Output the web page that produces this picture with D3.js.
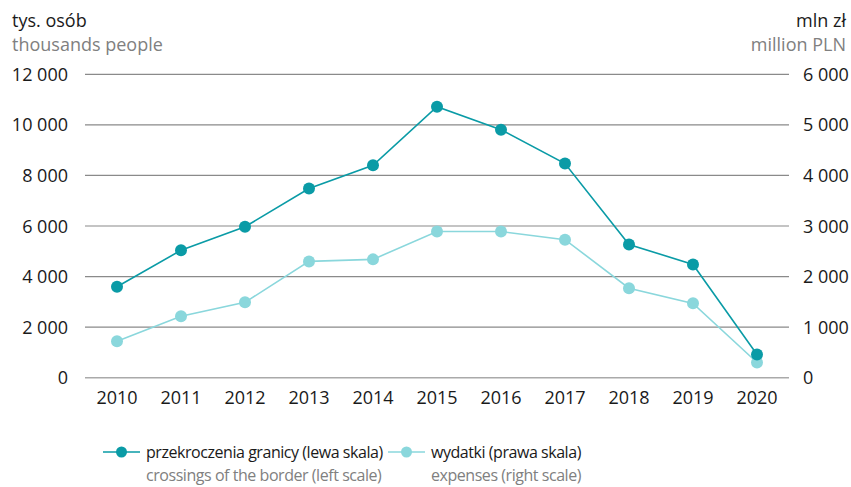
<!DOCTYPE html>
<html lang="pl">
<head>
  <meta charset="UTF-8">
  <title>przekroczenia granicy</title>
  <script src="https://d3js.org/d3.v7.min.js"></script>
  <style>
    body { margin: 0; background: #fff; }
    text { font-family: "Open Sans", sans-serif; }
  </style>
</head>
<body>
  <div class="canvas"></div>
  <script>
    const years = ['2010', '2011', '2012', '2013', '2014', '2015', '2016', '2017', '2018', '2019', '2020'];
    const crossings = [3600, 5040, 5970, 7480, 8400, 10720, 9810, 8470, 5270, 4480, 920];
    const expenses = [720, 1215, 1490, 2300, 2340, 2890, 2890, 2730, 1770, 1470, 300];
    const leftTicks = [0, 2000, 4000, 6000, 8000, 10000, 12000];
    const rightTicks = [0, 1000, 2000, 3000, 4000, 5000, 6000];

    const width = 851;
    const height = 487;
    const [x0, x1] = [85, 789];
    const [yTop, yBottom] = [74.3, 377.7];
    const dark = '#0a9ba6';
    const light = '#8ad7dc';

    const fmt = v => d3.format(',')(v).replace(/,/g, ' ');

    const svg = d3.select('.canvas')
                  .append('svg')
                  .attr('width', width)
                  .attr('height', height);

    const x = d3.scalePoint()
                .domain(years)
                .range([x0, x1])
                .padding(0.5);

    const yL = d3.scaleLinear().domain([0, 12000]).range([yBottom, yTop]);
    const yR = d3.scaleLinear().domain([0, 6000]).range([yBottom, yTop]);

    // siatka
    svg.append('g')
      .selectAll('line')
      .data(leftTicks)
      .enter()
      .append('line')
      .attr('x1', x0).attr('x2', x1)
      .attr('y1', d => yL(d)).attr('y2', d => yL(d))
      .attr('stroke', d => d === 0 ? '#aaa' : '#8a8a8a')
      .attr('stroke-width', d => d === 0 ? 1.6 : 1.2);

    // lewa oś
    svg.append('g')
      .selectAll('text')
      .data(leftTicks)
      .enter()
      .append('text')
      .attr('x', 68)
      .attr('y', d => yL(d) + 6.5)
      .attr('text-anchor', 'end')
      .attr('font-size', 18)
      .attr('fill', '#1a1a1a')
      .text(fmt);

    // prawa oś
    svg.append('g')
      .selectAll('text')
      .data(rightTicks)
      .enter()
      .append('text')
      .attr('x', 803)
      .attr('y', d => yR(d) + 6.5)
      .attr('font-size', 18)
      .attr('fill', '#1a1a1a')
      .text(fmt);

    // oś x
    svg.append('g')
      .selectAll('text')
      .data(years)
      .enter()
      .append('text')
      .attr('x', d => x(d))
      .attr('y', 404)
      .attr('text-anchor', 'middle')
      .attr('font-size', 18)
      .attr('fill', '#1a1a1a')
      .text(d => d);

    // tytuły osi
    svg.append('text').attr('x', 12).attr('y', 27).attr('font-size', 18).attr('fill', '#1a1a1a').text('tys. osób');
    svg.append('text').attr('x', 12).attr('y', 51).attr('font-size', 18).attr('fill', '#808080').text('thousands people');
    svg.append('text').attr('x', 846).attr('y', 27).attr('font-size', 18).attr('fill', '#1a1a1a').attr('text-anchor', 'end').text('mln zł');
    svg.append('text').attr('x', 846).attr('y', 51).attr('font-size', 18).attr('fill', '#808080').attr('text-anchor', 'end').text('million PLN');

    // serie
    const series = [
      { values: expenses, y: yR, color: light },
      { values: crossings, y: yL, color: dark }
    ];

    series.forEach(s => {
      const line = d3.line()
                     .x((d, i) => x(years[i]))
                     .y(d => s.y(d));
      svg.append('path')
        .attr('d', line(s.values))
        .attr('fill', 'none')
        .attr('stroke', s.color)
        .attr('stroke-width', 1.6);
      svg.append('g')
        .selectAll('circle')
        .data(s.values)
        .enter()
        .append('circle')
        .attr('cx', (d, i) => x(years[i]))
        .attr('cy', d => s.y(d))
        .attr('r', 6)
        .attr('fill', s.color);
    });

    // legenda
    const legend = [
      { color: dark, x: 103, pl: 'przekroczenia granicy (lewa skala)', en: 'crossings of the border (left scale)' },
      { color: light, x: 388, pl: 'wydatki (prawa skala)', en: 'expenses (right scale)' }
    ];
    const lg = svg.append('g').selectAll('g').data(legend).enter().append('g');
    lg.append('line')
      .attr('x1', d => d.x).attr('x2', d => d.x + 37)
      .attr('y1', 452).attr('y2', 452)
      .attr('stroke', d => d.color)
      .attr('stroke-width', 1.6);
    lg.append('circle')
      .attr('cx', d => d.x + 18.5).attr('cy', 452).attr('r', 5.5)
      .attr('fill', d => d.color);
    lg.append('text')
      .attr('x', d => d.x + 43).attr('y', 458)
      .attr('font-size', 16).attr('letter-spacing', -0.45).attr('fill', '#1a1a1a')
      .text(d => d.pl);
    lg.append('text')
      .attr('x', d => d.x + 43).attr('y', 481)
      .attr('font-size', 16).attr('letter-spacing', -0.45).attr('fill', '#808080')
      .text(d => d.en);
  </script>
</body>
</html>
